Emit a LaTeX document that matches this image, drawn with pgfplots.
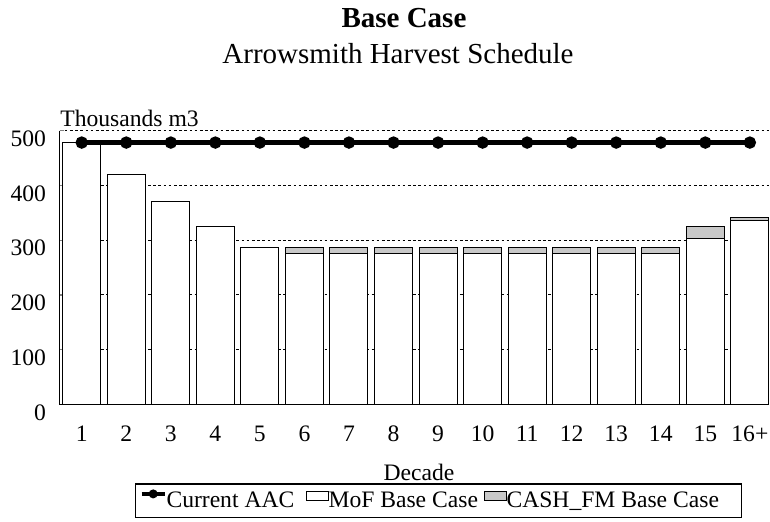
\documentclass[border=0pt]{standalone}
\usepackage{pgfplots}
\pgfplotsset{compat=1.18}
\usepackage{fontspec}
\setmainfont{Liberation Serif}

\definecolor{cashgray}{RGB}{200,200,200}

\pgfplotsset{
  basecase/.style={
    width=354.75pt, height=137pt, scale only axis,
    xmin=0.501, xmax=16.43,
    ymin=0, ymax=500,
    enlarge x limits=false,
    font=\fontsize{11.8}{14}\selectfont,
    /pgf/number format/assume math mode=true,
  },
  boxlegend/.style={
    legend image code/.code={\draw[##1] (0pt,0pt) rectangle (10.8pt,4.5pt);}},
  linelegend/.style={
    legend image code/.code={
      \draw[##1, line width=1.6pt, mark size=1.4pt, mark repeat=2, mark phase=2]
        plot coordinates {(0pt,3.5pt) (5.85pt,3.5pt) (11.7pt,3.5pt)};}},
}

\begin{document}
\begin{tikzpicture}
\useasboundingbox (-29.75pt,-58.25pt) rectangle (355.25pt,202.25pt);

% bars
\begin{axis}[
    basecase,
    ybar stacked,
    bar width=0.853,
    axis lines*=left,
    axis line style={line width=0.6pt},
    ytick={0,100,...,500},
    xtick={1,...,16},
    xticklabels={1,2,3,4,5,6,7,8,9,10,11,12,13,14,15,16+\hspace{12.5pt}},
    xtick style={draw=none},
    tick align=inside,
    major tick length=2pt,
    ytick style={line width=0.6pt},
    yticklabel style={xshift=-3.25pt, yshift=-4pt},
    xticklabel style={yshift=-7pt},
    ymajorgrids,
    grid style={black, line width=0.55pt, dash pattern=on 1.3pt off 1.3pt},
    xlabel={Decade},
    xlabel style={at={(axis description cs:0.5067,0)}, anchor=base, yshift=-37.75pt},
]
\addplot[fill=white, draw=black, line width=0.5pt] coordinates {
  (1,478) (2,420) (3,370) (4,325) (5,286) (6,276) (7,276) (8,276)
  (9,276) (10,276) (11,276) (12,276) (13,276) (14,276) (15,303.5) (16,335)
};
\addplot[fill=cashgray, draw=black, line width=0.5pt] coordinates {
  (1,0) (2,0) (3,0) (4,0) (5,0) (6,10) (7,10) (8,10)
  (9,10) (10,10) (11,10) (12,10) (13,10) (14,10) (15,22) (16,7)
};
\end{axis}

% line and legend
\begin{axis}[
    basecase,
    hide axis,
    legend columns=3,
    legend style={
      at={(0.106,-0.2876)}, anchor=north west,
      draw=black, line width=0.6pt,
      inner xsep=2.3pt, inner ysep=3.6pt,
      font=\fontsize{11.8}{14}\selectfont,
      nodes={inner sep=0pt},
    },
]
\addplot[black, line width=2.1pt, mark=*, mark size=2pt, linelegend]
  coordinates {
  (1,478) (2,478) (3,478) (4,478) (5,478) (6,478) (7,478) (8,478)
  (9,478) (10,478) (11,478) (12,478) (13,478) (14,478) (15,478) (16,478)
};
\addlegendentry{Current AAC\rule{5.8pt}{0pt}}
\addlegendimage{fill=white, draw=black, line width=0.5pt, boxlegend}
\addlegendentry{MoF Base Case\rule{3pt}{0pt}}
\addlegendimage{fill=cashgray, draw=black, line width=0.5pt, boxlegend}
\addlegendentry{CASH\_FM Base Case\rule{9pt}{0pt}}
\end{axis}

\node[anchor=base, font=\bfseries\fontsize{14.5}{17}\selectfont]
  at (172.25pt,188.75pt) {Base Case};
\node[anchor=base, font=\fontsize{14.5}{17}\selectfont]
  at (169.25pt,170.75pt) {Arrowsmith Harvest Schedule};
\node[anchor=base west, inner sep=0pt, font=\fontsize{11.8}{14}\selectfont]
  at (0.25pt,138.9pt) {Thousands m3};
\end{tikzpicture}
\end{document}
